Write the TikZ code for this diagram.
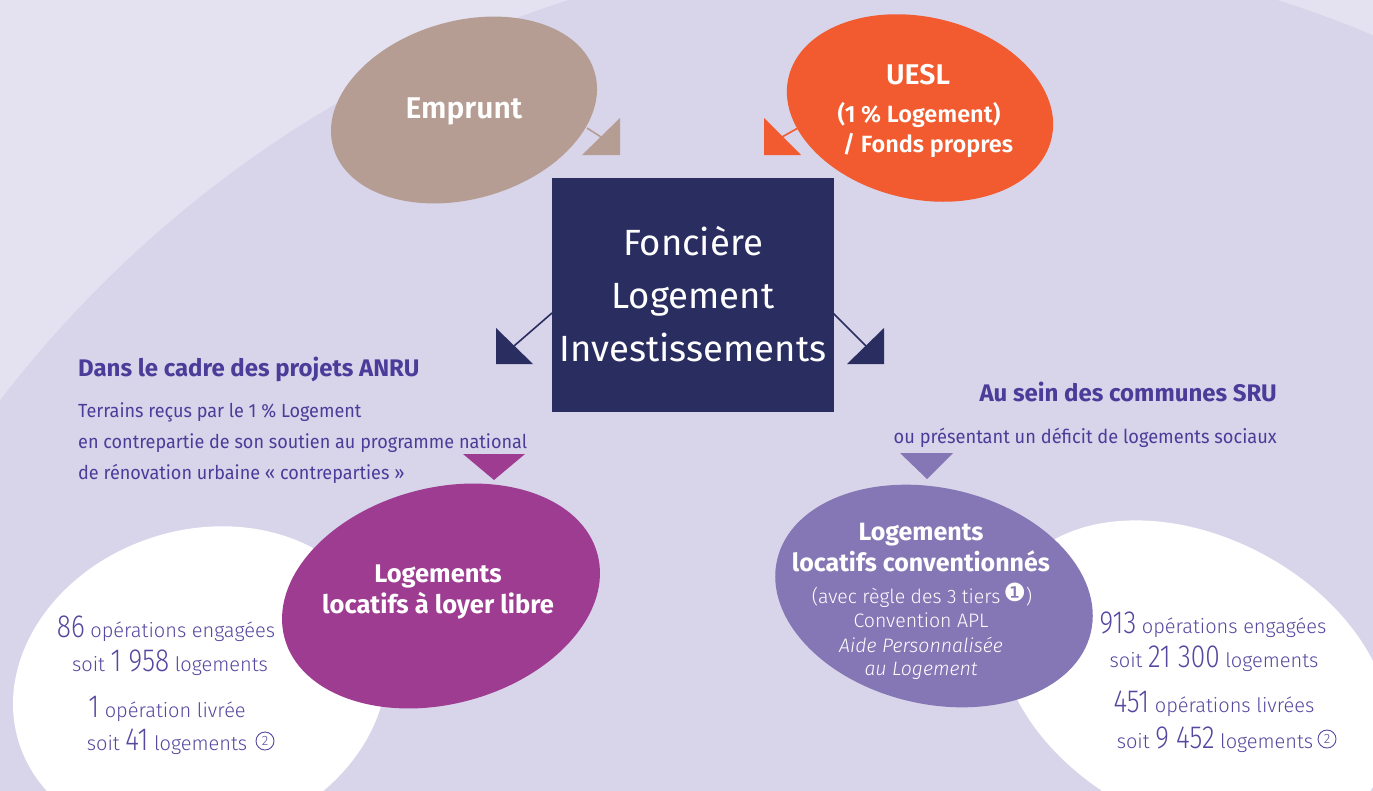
\documentclass[tikz,border=0pt]{standalone}
\usepackage{fontspec}
\setmainfont{Fira Sans}
\newfontfamily\flight{Fira Sans Light}[ItalicFont={Fira Sans Light Italic}]
\newfontfamily\fnum{Fira Sans Light}[FakeStretch=0.82]
\newfontfamily\fbody{Fira Sans}[FakeStretch=0.95]
\newfontfamily\fsemi{Fira Sans SemiBold}
\newfontfamily\fsym{DejaVu Sans}
\newcommand\fz[1]{\fontsize{#1}{#1}\selectfont}
\newcommand\bnum[1]{{\fnum\fz{32}#1}}

\definecolor{bgout}{HTML}{E4E2F1}
\definecolor{bgin}{HTML}{D8D5EA}
\definecolor{empruntc}{HTML}{B59D94}
\definecolor{ueslc}{HTML}{F15B2F}
\definecolor{navy}{HTML}{292D60}
\definecolor{librec}{HTML}{9E3C92}
\definecolor{convc}{HTML}{8577B5}
\definecolor{ink}{HTML}{4C3C99}
\definecolor{numink}{HTML}{55489F}

\begin{document}
\begin{tikzpicture}[x=1pt,y=-1pt,
  txt/.style={inner sep=0pt, anchor=base},
  numtxt/.style={txt, text=numink, font=\flight\fz{20}},
  circnum/.style={circle, draw=numink, line width=0.9pt, inner sep=0pt,
    minimum size=18pt, text=numink, font=\flight\fz{13.5}},
  linkline/.style={line width=1.6pt}]
\useasboundingbox (0,0) rectangle (1373,790);

% backdrop: pale field with a large disc
\fill[bgout] (0,0) rectangle (1373,790);
\begin{scope}
  \clip (0,0) rectangle (1373,790);
  \fill[bgin] (923,1108) circle (1163);
  % white result fields
  \fill[white, rotate around={18:(200,685)}] (200,685) ellipse [x radius=190, y radius=155];
  \fill[white, rotate around={-28:(1195,680)}] (1195,680) ellipse [x radius=208, y radius=143];
\end{scope}

% funding sources
\fill[empruntc, rotate around={16:(464,110)}] (464,110) ellipse [x radius=136, y radius=89];
\fill[ueslc, rotate around={-13:(920,108)}] (920,108) ellipse [x radius=135, y radius=91];

\node[txt, text=white, font=\fsemi\fz{30}] (emprunt) at (464,118) {Emprunt};
\node[txt, text=white, font=\fsemi\fz{28.5}] (uesl) at (918,84) {UESL};
\node[txt, text=white, font=\fsemi\fz{23.5}] (uesla) at (919,122) {(1 \% Logement)};
\node[txt, text=white, font=\fsemi\fz{23.5}] (ueslb) at (928,152) {/ Fonds propres};

% central company
\node[fill=navy, minimum width=282pt, minimum height=234pt, inner sep=0pt] (fli) at (693,295) {};
\node[txt, align=center, text=white, font=\fontsize{36.5}{53}\selectfont] (flitext) at (693,361)
  {Foncière\\Logement\\Investissements};

% connectors with right-angled heads
\coordinate (ea) at (587,128); \coordinate (eb) at (601,137);
\draw[linkline, empruntc] (ea) -- (eb);
\fill[empruntc] (620,118) -- (620,155) -- (582,155) -- cycle;

\coordinate (ua) at (798,128); \coordinate (ub) at (782,137);
\draw[linkline, ueslc] (ua) -- (ub);
\fill[ueslc] (764,118) -- (764,155) -- (801,155) -- cycle;

\coordinate (la) at (552,313); \coordinate (lb) at (514,346);
\draw[linkline, navy] (la) -- (lb);
\fill[navy] (496,328) -- (496,364) -- (533,364) -- cycle;

\coordinate (ra) at (833,313); \coordinate (rb) at (866,346);
\draw[linkline, navy] (ra) -- (rb);
\fill[navy] (884,328) -- (884,364) -- (847,364) -- cycle;

% ANRU branch
\node[txt, anchor=base west, text=ink, font=\bfseries\fz{24}] (anru) at (78,376) {Dans le cadre des projets ANRU};
\node[txt, anchor=base west, align=left, text=ink, font=\fbody\fontsize{19}{31}\selectfont] (anrutext) at (78,479)
  {Terrains reçus par le 1 \% Logement\\en contrepartie de son soutien au programme national\\de rénovation urbaine « contreparties »};
\fill[librec] (463,454) -- (525,454) -- (494,480) -- cycle;

% SRU branch
\node[txt, anchor=base east, text=ink, font=\bfseries\fz{24}] (sru) at (1277,401) {Au sein des communes SRU};
\node[txt, anchor=base east, text=ink, font=\fbody\fz{19.2}] (srutext) at (1277,443) {ou présentant un déficit de logements sociaux};
\fill[convc] (900,453) -- (953,453) -- (927,479) -- cycle;

% housing categories
\fill[librec, rotate around={15:(441,596)}] (441,596) ellipse [x radius=162, y radius=108];
\fill[convc, rotate around={-13:(934,596)}] (934,596) ellipse [x radius=161, y radius=108];

\node[txt, text=white, font=\bfseries\fz{25.5}] (libre1) at (438,582) {Logements};
\node[txt, text=white, font=\bfseries\fz{25.5}] (libre2) at (438,613) {locatifs à loyer libre};

\node[txt, text=white, font=\bfseries\fz{25}] (conv1) at (921,540) {Logements};
\node[txt, text=white, font=\bfseries\fz{25}] (conv2) at (921,571) {locatifs conventionnés};
\node[txt, text=white, font=\flight\fz{19.5}] (conv3) at (922,603) {(avec règle des 3 tiers\,\raisebox{2pt}{\fsym\fz{25}❶})};
\node[txt, text=white, font=\flight\fz{19.5}] (conv4) at (921,627) {Convention APL};
\node[txt, text=white, font=\flight\itshape\fz{19.5}] (conv5) at (921,652) {Aide Personnalisée};
\node[txt, text=white, font=\flight\itshape\fz{19.5}] (conv6) at (921,675) {au Logement};

% figures
\node[numtxt] (l1) at (166,637) {\bnum{86} opérations engagées};
\node[numtxt] (l2) at (170,671) {soit \bnum{1 958} logements};
\node[numtxt] (l3) at (167,717) {\bnum{1} opération livrée};
\node[numtxt] (l4) at (167,750) {soit \bnum{41} logements};
\node[circnum] (l4c) at (265,741) {2};

\node[numtxt] (r1) at (1213,633) {\bnum{913} opérations engagées};
\node[numtxt] (r2) at (1214,667) {soit \bnum{21 300} logements};
\node[numtxt] (r3) at (1214,712) {\bnum{451} opérations livrées};
\node[numtxt] (r4) at (1215,748) {soit \bnum{9 452} logements};
\node[circnum] (r4c) at (1327,739) {2};
\end{tikzpicture}
\end{document}
